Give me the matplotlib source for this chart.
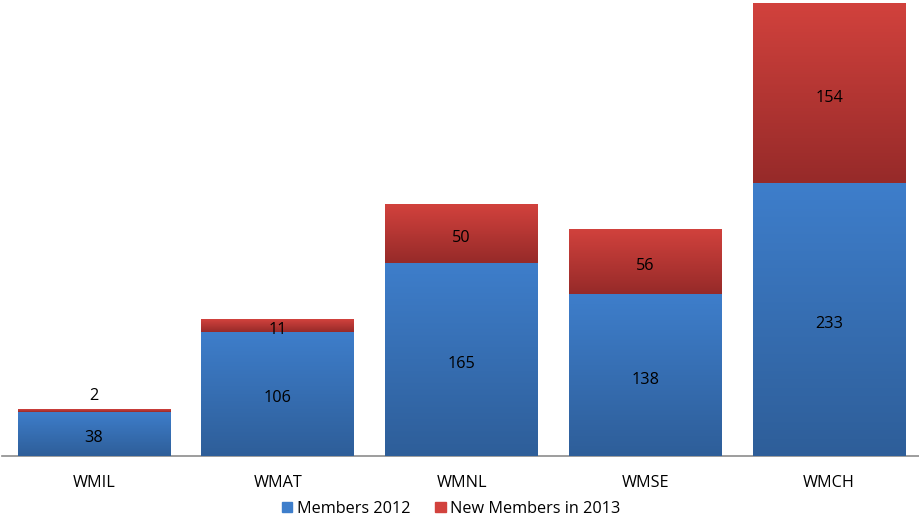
import numpy as np
import matplotlib.pyplot as plt
from matplotlib.colors import LinearSegmentedColormap
from matplotlib.patches import Patch

plt.rcParams['font.family'] = ['Open Sans', 'DejaVu Sans']

# chapter membership counts
chapters = ['WMIL', 'WMAT', 'WMNL', 'WMSE', 'WMCH']
members_2012 = [38, 106, 165, 138, 233]
new_2013 = [2, 11, 50, 56, 154]

blue_top, blue_bot = '#3e7ecb', '#2e5e99'
red_top, red_bot = '#d2423d', '#962a29'

fig = plt.figure(figsize=(9.19, 5.16), dpi=100)
ax = fig.add_axes([0.0022, 1 - 456 / 516, 1.0, (456 - 3) / 516])

x = np.arange(len(chapters))
width = 0.83
base = ax.bar(x, members_2012, width, color=blue_top, zorder=2)
top = ax.bar(x, new_2013, width, bottom=members_2012, color=red_top, zorder=2)


def shade(bars, c_top, c_bot):
    # vertical gradient inside each bar segment
    cmap = LinearSegmentedColormap.from_list('g', [c_bot, c_top])
    grad = np.linspace(0, 1, 256).reshape(-1, 1)
    for p in bars:
        x0, y0 = p.get_x(), p.get_y()
        w, h = p.get_width(), p.get_height()
        im = ax.imshow(grad, cmap=cmap, origin='lower', aspect='auto',
                       extent=(x0, x0 + w, y0, y0 + h), zorder=3)
        im.set_clip_path(p)


shade(base, blue_top, blue_bot)
shade(top, red_top, red_bot)
ax.set_xlim(-0.5, 4.5)
ax.set_ylim(0, 387)

# value labels, nudged slightly below the segment middle
for i in range(len(chapters)):
    ax.text(x[i], members_2012[i] / 2, str(members_2012[i]), ha='center',
            va='center_baseline', fontsize=11.7, color='black', zorder=5,
            transform=ax.transData + plt.matplotlib.transforms.ScaledTranslation(0, -0.025, fig.dpi_scale_trans))
    if new_2013[i] < 5:
        ypos = members_2012[i] + new_2013[i] + 15
    else:
        ypos = members_2012[i] + new_2013[i] / 2
    ax.text(x[i], ypos, str(new_2013[i]), ha='center', va='center_baseline',
            fontsize=11.7, color='black', zorder=5,
            transform=ax.transData + plt.matplotlib.transforms.ScaledTranslation(0, -0.025, fig.dpi_scale_trans))

for s in ['top', 'right', 'left']:
    ax.spines[s].set_visible(False)
ax.spines['bottom'].set_color('#8c8c8c')
ax.spines['bottom'].set_linewidth(1.2)
ax.set_yticks([])
ax.set_xticks(x)
ax.set_xticklabels(chapters, fontsize=11.7)
ax.tick_params(axis='x', length=0, pad=14)

handles = [Patch(color=blue_top, label='Members 2012'),
           Patch(color=red_top, label='New Members in 2013')]
fig.legend(handles=handles, loc='center', bbox_to_anchor=(0.491, 0.014),
           ncol=2, frameon=False, fontsize=11.7, handlelength=0.65,
           handleheight=0.65, handletextpad=0.3, columnspacing=1.5)

fig.savefig('out.png', dpi=100)
